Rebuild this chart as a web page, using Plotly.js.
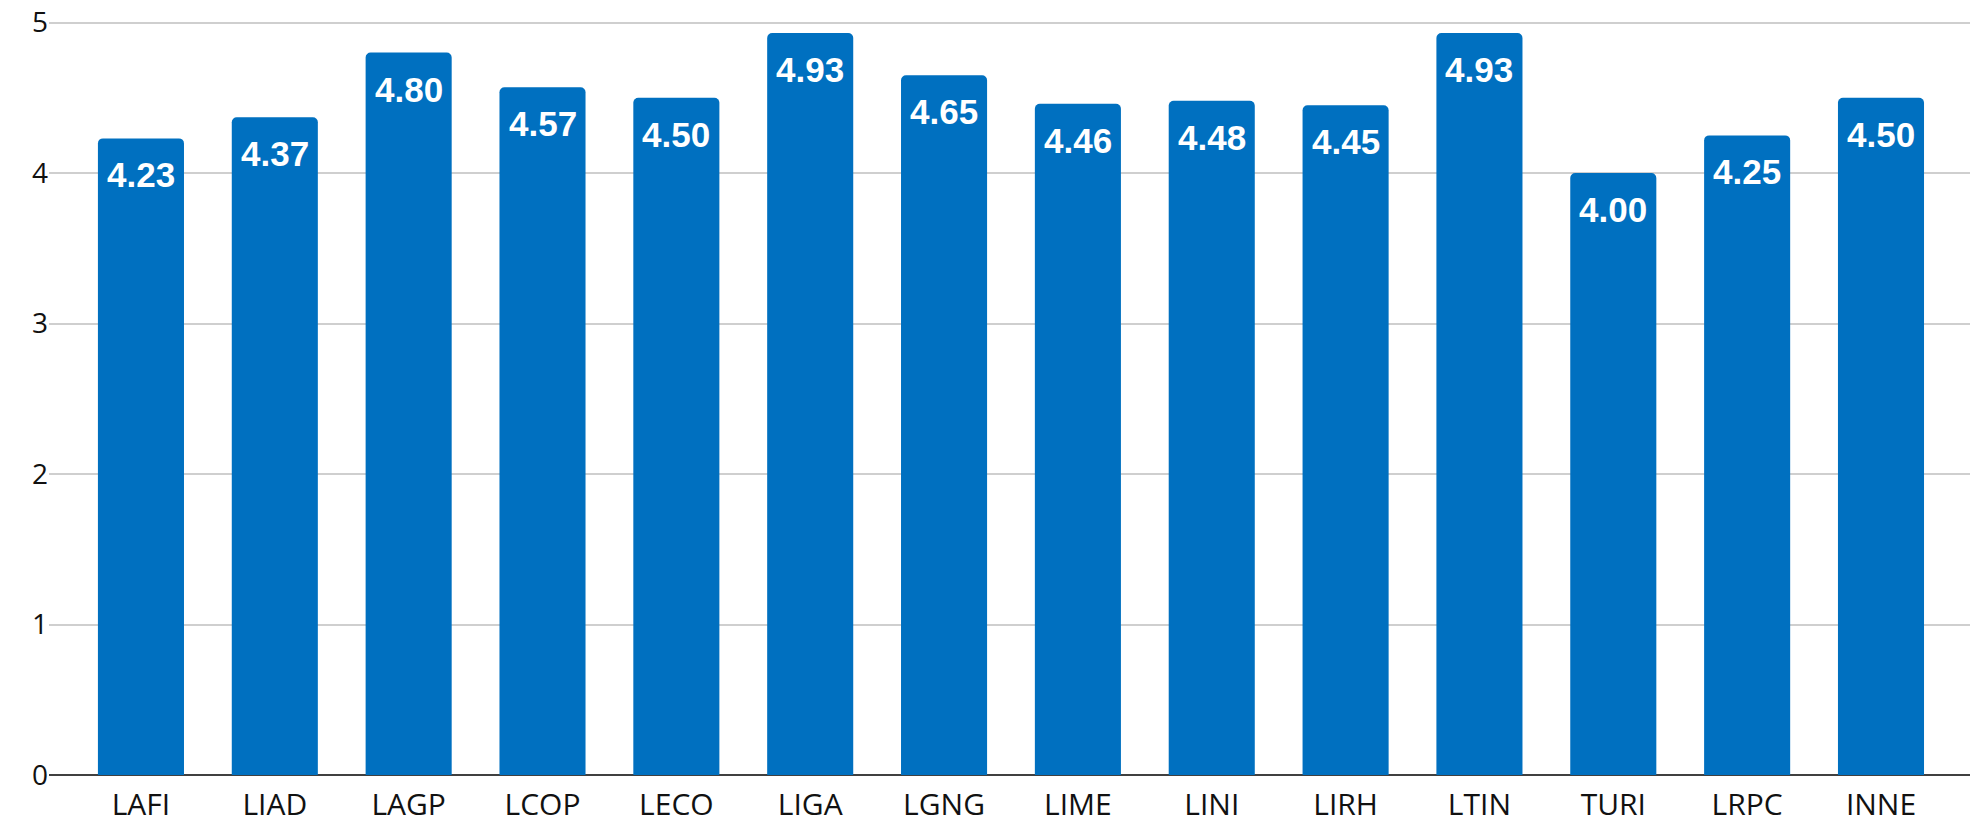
<!DOCTYPE html>
<html>
<head>
<meta charset="utf-8">
<script src="https://cdn.plot.ly/plotly-3.0.1.min.js"></script>
<style>html,body{margin:0;padding:0;background:#fff;}#chart{width:1970px;height:826px;}</style>
</head>
<body>
<div id="chart"></div>
<script>
const categories = ["LAFI","LIAD","LAGP","LCOP","LECO","LIGA","LGNG","LIME","LINI","LIRH","LTIN","TURI","LRPC","INNE"];
const values = [4.23,4.37,4.80,4.57,4.50,4.93,4.65,4.46,4.48,4.45,4.93,4.00,4.25,4.50];
const yTicks = [0,1,2,3,4,5];

const barColor = "#0070C0";

const annotations = categories.map((c, i) => ({
  x: c, y: values[i], xref: "x", yref: "y",
  text: values[i].toFixed(2),
  showarrow: false, yanchor: "top", xanchor: "center",
  yshift: -15,
  font: {family: "Liberation Sans, Arial, sans-serif", size: 35, color: "#ffffff", weight: "bold"}
}));

const trace = {
  type: "bar",
  x: categories,
  y: values,
  marker: {color: barColor, cornerradius: 5, line: {width: 0}},
  hoverinfo: "x+y"
};

const layout = {
  width: 1970, height: 826,
  margin: {l: 49, r: 0, t: 15, b: 51},
  paper_bgcolor: "#ffffff", plot_bgcolor: "#ffffff",
  bargap: 0.357,
  showlegend: false,
  font: {family: "Open Sans, sans-serif", color: "#111111"},
  xaxis: {
    type: "category",
    range: [-0.687, 13.665],
    showgrid: false, zeroline: false,
    showline: false,
    ticks: "",
    tickfont: {family: "Open Sans, sans-serif", size: 30, color: "#111111"},
    ticklabelstandoff: 9
  },
  yaxis: {
    range: [0, 5.05],
    tickvals: yTicks,
    ticktext: yTicks.map(String),
    showgrid: true, gridcolor: "#cfcfcf", gridwidth: 2,
    zeroline: true, zerolinecolor: "#404040", zerolinewidth: 2,
    showline: false, ticks: "",
    tickfont: {family: "Open Sans, sans-serif", size: 28, color: "#111111"},
    ticklabelstandoff: 0
  },
  annotations: annotations
};

Plotly.newPlot("chart", [trace], layout, {displayModeBar: false, staticPlot: true});
</script>
</body>
</html>
